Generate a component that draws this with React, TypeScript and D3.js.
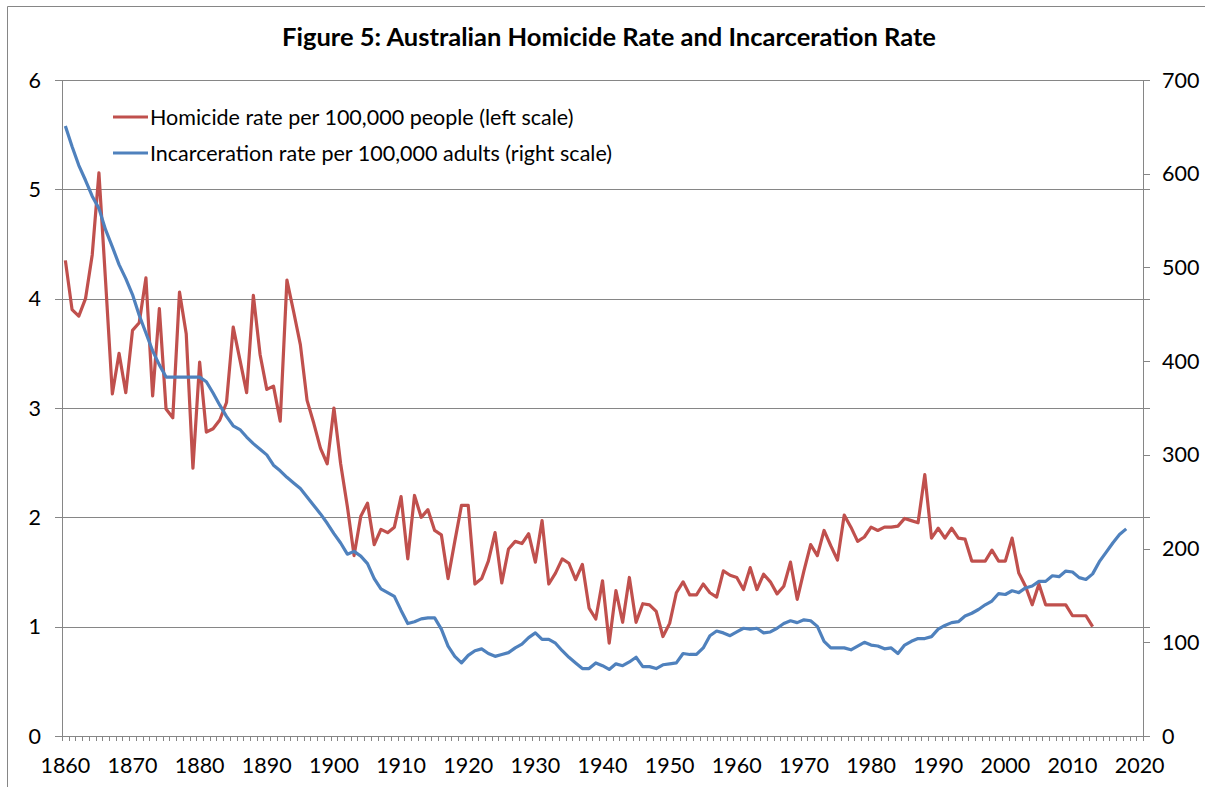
import { useEffect, useRef } from "react";
import * as d3 from "d3";

const width = 1205;
const height = 787;

const title = "Figure 5: Australian Homicide Rate and Incarceration Rate";
const homicideLabel = "Homicide rate per 100,000 people (left scale)";
const prisonLabel = "Incarceration rate per 100,000 adults (right scale)";

const firstYear = 1860;
const lastYear = 2020;

// homicide rate per 100,000, 1860 - 2013
const homicide = [
  4.35, 3.9, 3.84, 4.0, 4.4, 5.15, 4.15, 3.13, 3.5, 3.14,
  3.71, 3.78, 4.19, 3.11, 3.91, 2.99, 2.91, 4.06, 3.68, 2.45,
  3.42, 2.78, 2.81, 2.89, 3.05, 3.74, 3.44, 3.14, 4.03, 3.49,
  3.17, 3.2, 2.88, 4.17, 3.88, 3.58, 3.07, 2.86, 2.63, 2.49,
  3.0, 2.49, 2.1, 1.65, 2.01, 2.13, 1.75, 1.89, 1.86, 1.91,
  2.19, 1.62, 2.2, 2.0, 2.07, 1.88, 1.84, 1.44, 1.78, 2.11,
  2.11, 1.39, 1.44, 1.6, 1.86, 1.4, 1.71, 1.78, 1.76, 1.85,
  1.59, 1.97, 1.39, 1.49, 1.62, 1.58, 1.43, 1.57, 1.17, 1.07,
  1.42, 0.85, 1.33, 1.04, 1.45, 1.04, 1.21, 1.2, 1.14, 0.91,
  1.03, 1.31, 1.41, 1.29, 1.29, 1.39, 1.31, 1.27, 1.51, 1.47,
  1.45, 1.34, 1.54, 1.34, 1.48, 1.41, 1.3, 1.37, 1.59, 1.25,
  1.51, 1.75, 1.65, 1.88, 1.74, 1.61, 2.02, 1.91, 1.78, 1.82,
  1.91, 1.88, 1.91, 1.91, 1.92, 1.99, 1.97, 1.95, 2.39, 1.81,
  1.9, 1.81, 1.9, 1.81, 1.8, 1.6, 1.6, 1.6, 1.7, 1.6,
  1.6, 1.81, 1.49, 1.37, 1.2, 1.39, 1.2, 1.2, 1.2, 1.2,
  1.1, 1.1, 1.1, 1.0,
];

// incarceration rate per 100,000 adults, 1860 - 2018
const prison = [
  651, 629, 609, 593, 576, 563, 540, 522, 503, 488,
  471, 449, 430, 411, 396, 383, 383, 383, 383, 383,
  383, 378, 366, 353, 341, 331, 327, 319, 312, 306,
  300, 289, 283, 276, 270, 264, 255, 246, 237, 227,
  216, 206, 194, 197, 192, 184, 168, 157, 153, 149,
  134, 120, 122, 125, 126, 126, 114, 96, 85, 78,
  86, 91, 93, 88, 85, 87, 89, 94, 98, 105,
  110, 103, 103, 99, 91, 84, 78, 72, 72, 78,
  75, 71, 77, 75, 79, 84, 74, 74, 72, 76,
  77, 78, 88, 87, 87, 94, 107, 112, 110, 107,
  111, 115, 114, 115, 110, 111, 115, 120, 123, 121,
  124, 123, 117, 101, 94, 94, 94, 92, 96, 100,
  97, 96, 93, 94, 88, 97, 101, 104, 104, 106,
  114, 118, 121, 122, 128, 131, 135, 140, 144, 152,
  151, 155, 153, 158, 160, 165, 165, 171, 170, 176,
  175, 169, 167, 173, 186, 196, 206, 215, 221,
];

const leftTicks = [0, 1, 2, 3, 4, 5, 6];
const rightTicks = [0, 100, 200, 300, 400, 500, 600, 700];
const yearLabels = [1860, 1870, 1880, 1890, 1900, 1910, 1920, 1930, 1940, 1950, 1960, 1970, 1980, 1990, 2000, 2010, 2020];

const left = 62;
const right = 1143;
const top = 80;
const bottom = 736;
const font = "Lato, 'Open Sans', sans-serif";
const red = "#C0504D";
const blue = "#4F81BD";
const grey = "#868686";

function App() {
  const ref = useRef<SVGSVGElement>(null);

  useEffect(() => {
    const svg = d3.select(ref.current);
    svg.selectAll("*").remove();

    const years = d3.range(firstYear, lastYear + 1);
    const x = d3.scalePoint<number>().domain(years).range([left, right]).padding(0.5);
    const step = x.step();
    const yL = d3.scaleLinear().domain([0, 6]).range([bottom, top]);
    const yR = d3.scaleLinear().domain([0, 700]).range([bottom, top]);

    // chart border
    svg.append("path")
      .attr("d", `M7.5,${height}V6.5H${width}`)
      .attr("fill", "none")
      .attr("stroke", grey)
      .attr("stroke-width", 1);

    svg.append("text")
      .attr("x", 609)
      .attr("y", 46)
      .attr("text-anchor", "middle")
      .style("font-family", font)
      .style("font-weight", "bold")
      .style("font-size", "25.5px")
      .text(title);

    // gridlines
    svg.append("g")
      .selectAll("line")
      .data(leftTicks.slice(1))
      .enter()
      .append("line")
      .attr("x1", left - 7)
      .attr("x2", right + 7)
      .attr("y1", (d) => Math.round(yL(d)) + 0.5)
      .attr("y2", (d) => Math.round(yL(d)) + 0.5)
      .attr("stroke", grey);

    // right-side ticks
    svg.append("g")
      .selectAll("line")
      .data(rightTicks)
      .enter()
      .append("line")
      .attr("x1", right)
      .attr("x2", right + 7)
      .attr("y1", (d) => Math.round(yR(d)) + 0.5)
      .attr("y2", (d) => Math.round(yR(d)) + 0.5)
      .attr("stroke", grey);

    // axes lines
    svg.append("line")
      .attr("x1", left + 0.5).attr("x2", left + 0.5)
      .attr("y1", top).attr("y2", bottom)
      .attr("stroke", grey);
    svg.append("line")
      .attr("x1", right + 0.5).attr("x2", right + 0.5)
      .attr("y1", top).attr("y2", bottom)
      .attr("stroke", grey);
    svg.append("line")
      .attr("x1", left - 7).attr("x2", right)
      .attr("y1", bottom + 0.5).attr("y2", bottom + 0.5)
      .attr("stroke", grey);

    // minor year ticks
    svg.append("g")
      .selectAll("line")
      .data(d3.range(years.length + 1))
      .enter()
      .append("line")
      .attr("x1", (i) => Math.round(left + i * step) + 0.5)
      .attr("x2", (i) => Math.round(left + i * step) + 0.5)
      .attr("y1", bottom)
      .attr("y2", bottom + 5)
      .attr("stroke", grey);

    // tick labels
    svg.append("g")
      .selectAll("text")
      .data(leftTicks)
      .enter()
      .append("text")
      .attr("x", 41)
      .attr("y", (d) => yL(d))
      .attr("dy", "0.35em")
      .attr("text-anchor", "end")
      .style("font-family", font)
      .style("font-size", "21.5px")
      .text((d) => d);

    svg.append("g")
      .selectAll("text")
      .data(rightTicks)
      .enter()
      .append("text")
      .attr("x", 1162)
      .attr("y", (d) => yR(d))
      .attr("dy", "0.35em")
      .style("font-family", font)
      .style("font-size", "21.5px")
      .text((d) => d);

    svg.append("g")
      .selectAll("text")
      .data(yearLabels)
      .enter()
      .append("text")
      .attr("x", (d) => x(d)!)
      .attr("y", 765)
      .attr("dy", "0.35em")
      .attr("text-anchor", "middle")
      .style("font-family", font)
      .style("font-size", "21.5px")
      .text((d) => d);

    // series
    const homicideLine = d3.line<number>()
      .x((d, i) => x(firstYear + i)!)
      .y((d) => yL(d));
    const prisonLine = d3.line<number>()
      .x((d, i) => x(firstYear + i)!)
      .y((d) => yR(d));

    svg.append("path")
      .datum(homicide)
      .attr("d", homicideLine)
      .attr("fill", "none")
      .attr("stroke", red)
      .attr("stroke-width", 3.2)
      .attr("stroke-linejoin", "round");

    svg.append("path")
      .datum(prison)
      .attr("d", prisonLine)
      .attr("fill", "none")
      .attr("stroke", blue)
      .attr("stroke-width", 3.2)
      .attr("stroke-linejoin", "round");

    // legend
    const legend = [
      { label: homicideLabel, color: red, y: 117 },
      { label: prisonLabel, color: blue, y: 153 },
    ];
    const items = svg.append("g")
      .selectAll("g")
      .data(legend)
      .enter()
      .append("g")
      .attr("transform", (d) => `translate(0,${d.y})`);
    items.append("line")
      .attr("x1", 113)
      .attr("x2", 148)
      .attr("stroke", (d) => d.color)
      .attr("stroke-width", 3.2);
    items.append("text")
      .attr("x", 150)
      .attr("dy", "0.35em")
      .style("font-family", font)
      .style("font-size", "21.5px")
      .text((d) => d.label);
  }, []);

  return (
    <svg
      ref={ref}
      width={width}
      height={height}
      style={{ position: "absolute", left: 0, top: 0, background: "#fff" }}
    ></svg>
  );
}

export default App;
